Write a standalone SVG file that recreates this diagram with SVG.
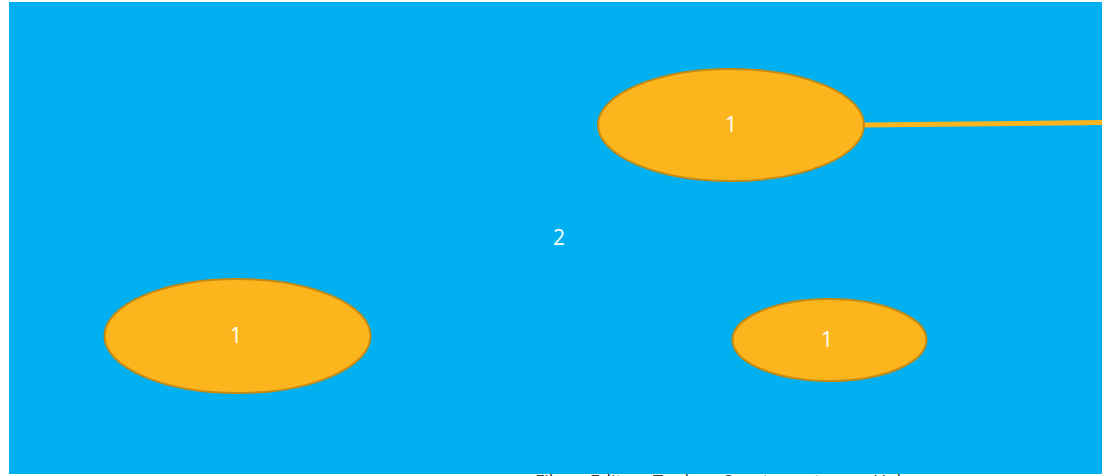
<svg xmlns="http://www.w3.org/2000/svg" width="1102" height="476" viewBox="0 0 1102 476">
<style>
.node{fill:#FDB51D;stroke:#C48A12;stroke-width:2}
.lbl{font-family:"Open Sans","Liberation Sans",sans-serif;font-size:21px;fill:#FFFFFF;text-anchor:middle}
.menu{font-family:"Open Sans","Liberation Sans",sans-serif;font-size:18px;fill:#333333}
.conn{stroke:#FDB51D;stroke-width:5;fill:none}
</style>
<rect x="0" y="0" width="1102" height="476" fill="#FFFFFF"/>
<g id="menu">
<text class="menu" x="535" y="488">File</text>
<text class="menu" x="590" y="488">Edit</text>
<text class="menu" x="653" y="488">Tools</text>
<text class="menu" x="723" y="488">Spectrometer</text>
<text class="menu" x="873" y="488">Help</text>
</g>
<rect id="background" x="9" y="2" width="1093" height="472" fill="#00B0F0"/>
<g id="connectors">
<line class="conn" x1="864" y1="125" x2="1102" y2="122.5"/>
</g>
<g id="node-top">
<ellipse class="node" cx="731" cy="125" rx="133" ry="56"/>
<text class="lbl" x="731" y="132">1</text>
</g>
<g id="node-left">
<ellipse class="node" cx="237.5" cy="336" rx="133" ry="57"/>
<text class="lbl" x="236" y="343">1</text>
</g>
<g id="node-right">
<ellipse class="node" cx="829.5" cy="340" rx="97" ry="41"/>
<text class="lbl" x="827" y="347">1</text>
</g>
<g id="label-2">
<text class="lbl" x="559" y="245">2</text>
</g>
</svg>
